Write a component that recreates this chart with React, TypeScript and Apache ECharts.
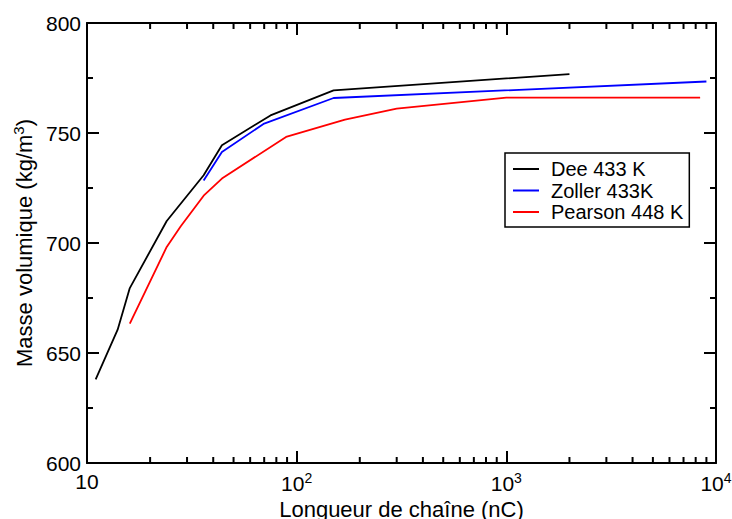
import React, { useEffect, useRef } from "react";
import * as echarts from "echarts";

const deeX = [11, 14, 16, 24, 36, 44, 75, 150, 2000];
const deeY = [638, 660.6, 679.5, 710, 730.8, 744.4, 758, 769.4, 776.8];
const zollerX = [36, 44, 70, 150, 9000];
const zollerY = [728.4, 741.4, 754.3, 765.9, 773.4];
const pearsonX = [16, 24, 28, 36, 44, 89, 170, 300, 1000, 8400];
const pearsonY = [663.4, 698.2, 707.6, 721.5, 729.3, 748.2, 756.1, 761.1, 766.1, 766.1];
const seriesNames = ["Dee 433 K", "Zoller 433K", "Pearson 448 K"];
const seriesColors = ["#000000", "#0000ff", "#ff0000"];
const decades = [10, 100, 1000];
const minorMultipliers = [2, 3, 4, 5, 6, 7, 8, 9];

const FONT = "Liberation Sans, Arial, Helvetica, sans-serif";

export default function App() {
  const ref = useRef<HTMLDivElement>(null);
  useEffect(() => {
    if (!ref.current) return;
    const chart = echarts.init(ref.current, undefined, { renderer: "svg" });
    const zip = (xs: number[], ys: number[]) => xs.map((x, i) => [x, ys[i]]);
    const minorTicks: number[][] = [];
    decades.forEach((d) => minorMultipliers.forEach((m) => minorTicks.push([d * m, 600])));
    const axisLine = { show: true, lineStyle: { color: "#000", width: 2 } };
    const tick = { show: true, inside: true, length: 12, lineStyle: { color: "#000", width: 2 } };
    const minor = { show: true, splitNumber: 2, length: 6, lineStyle: { color: "#000", width: 2 } };
    const logAxisCommon = {
      type: "log" as const,
      logBase: 10,
      min: 10,
      max: 10000,
      axisLine,
      axisTick: tick,
      splitLine: { show: false },
    };
    const yCommon = {
      type: "value" as const,
      min: 600,
      max: 800,
      interval: 50,
      axisLine,
      axisTick: tick,
      minorTick: minor,
      splitLine: { show: false },
      minorSplitLine: { show: false },
    };
    chart.setOption({
      animation: false,
      backgroundColor: "#fff",
      grid: { left: 87, right: 16, top: 23, bottom: 56, containLabel: false, outerBoundsMode: "none" },
      legend: {
        data: seriesNames,
        orient: "vertical",
        left: 505,
        top: 153,
        padding: [6, 6, 5, 8],
        itemGap: 1.5,
        itemWidth: 26,
        itemHeight: 2,
        icon: "rect",
        borderColor: "#000",
        borderWidth: 1.5,
        backgroundColor: "#fff",
        textStyle: { fontFamily: FONT, fontSize: 20, color: "#000", lineHeight: 20, padding: [0, 0, 0, 7] },
      },
      xAxis: [
        {
          ...logAxisCommon,
          position: "bottom",
          name: "Longueur de chaîne (nC)",
          nameLocation: "middle",
          nameGap: 34,
          nameTextStyle: { fontFamily: FONT, fontSize: 22, color: "#000" },
          axisLabel: {
            show: true,
            margin: 8,
            fontFamily: FONT,
            fontSize: 21,
            color: "#000",
            formatter: (v: number) => {
              const e = Math.round(Math.log10(v));
              return e === 1 ? "10" : "10{s|" + e + "}";
            },
            rich: {
              s: { fontFamily: FONT, fontSize: 14, color: "#000", verticalAlign: "top", padding: [0, 0, 10, 0] },
            },
          },
        },
        { ...logAxisCommon, position: "top", axisLabel: { show: false } },
      ],
      yAxis: [
        {
          ...yCommon,
          position: "left",
          name: "Masse volumique (kg/m{s|3})",
          nameLocation: "middle",
          nameGap: 48,
          nameTextStyle: {
            fontFamily: FONT,
            fontSize: 22,
            color: "#000",
            rich: { s: { fontFamily: FONT, fontSize: 15, color: "#000", padding: [0, 0, 12, 0] } },
          },
          axisLabel: { show: true, margin: 6, fontFamily: FONT, fontSize: 21, color: "#000" },
        },
        { ...yCommon, position: "right", axisLabel: { show: false } },
      ],
      series: [
        {
          type: "custom",
          name: "minorLogTicks",
          xAxisIndex: 0,
          yAxisIndex: 0,
          silent: true,
          clip: false,
          data: minorTicks,
          renderItem: (params: any, api: any) => {
            const v = api.value(0);
            const b = api.coord([v, 600]);
            const t = api.coord([v, 800]);
            const st = { stroke: "#000", lineWidth: 2 };
            return {
              type: "group",
              children: [
                { type: "line", shape: { x1: b[0], y1: b[1], x2: b[0], y2: b[1] - 6 }, style: st },
                { type: "line", shape: { x1: t[0], y1: t[1], x2: t[0], y2: t[1] + 6 }, style: st },
              ],
            };
          },
        },
        ...[zip(deeX, deeY), zip(zollerX, zollerY), zip(pearsonX, pearsonY)].map((d, i) => ({
          type: "line",
          name: seriesNames[i],
          data: d,
          showSymbol: false,
          symbol: "none",
          color: seriesColors[i],
          lineStyle: { color: seriesColors[i], width: 1.8 },
          z: 3,
        })),
      ],
    });
    return () => chart.dispose();
  }, []);
  return <div ref={ref} style={{ width: 732, height: 519, position: "absolute", left: 0, top: 0 }} />;
}
